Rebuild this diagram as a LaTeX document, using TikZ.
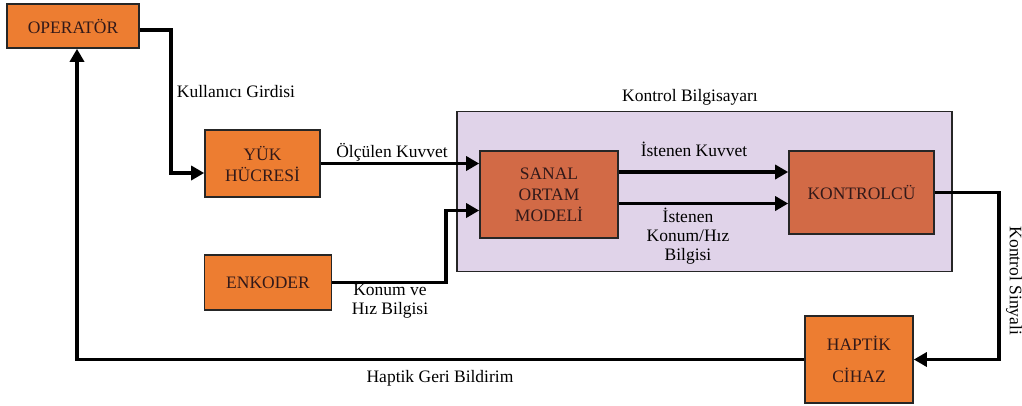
\documentclass[tikz,border=0pt]{standalone}
\usepackage{fontspec}
\setmainfont{Liberation Serif}
\usetikzlibrary{arrows.meta}
\definecolor{boxor}{RGB}{237,125,49}
\definecolor{boxdk}{RGB}{210,106,70}
\definecolor{panel}{RGB}{224,211,233}
\definecolor{btext}{RGB}{50,25,25}
\tikzset{
  box/.style={draw=black!85, line width=1.6pt, fill=boxor, align=center, text=btext, font=\fontsize{17.5}{21}\selectfont, inner sep=0pt},
  dbox/.style={box, fill=boxdk},
  arr/.style={line width=3.8pt, -{Triangle[length=13pt,width=14pt]}},
  lab/.style={font=\fontsize{17.5}{21}\selectfont, align=center, inner sep=0pt}
}
\begin{document}
\begin{tikzpicture}[x=1pt,y=-1pt]
\useasboundingbox (0,0) rectangle (1022,405);
\node[draw=black!85, line width=1.6pt, fill=panel, minimum width=495pt, minimum height=160pt, inner sep=0pt] (kb) at (704.5,191.5) {};
\node[box, minimum width=132pt, minimum height=44pt] (op) at (73,26) {OPERATÖR};
\node[box, minimum width=115pt, minimum height=67pt] (yuk) at (262.5,163.5) {YÜK\\HÜCRESİ};
\node[box, minimum width=127pt, minimum height=55pt] (enk) at (268,282.5) {ENKODER};
\node[dbox, minimum width=138pt, minimum height=87pt] (san) at (549,194.5) {SANAL\\ORTAM\\MODELİ};
\node[dbox, minimum width=145pt, minimum height=83pt] (kon) at (861.5,192.5) {KONTROLCÜ};
\node[box, minimum width=108pt, minimum height=87pt, font=\fontsize{17.5}{32}\selectfont] (hap) at (859,359.5) {HAPTİK\\CİHAZ};

\draw[arr] ([yshift=-4pt]op.east) -- (171,30) |- ([yshift=-9.5pt]yuk.west);
\draw[arr] (yuk.east) -- (yuk.east -| san.west);
\draw[arr] (enk.east) -- (446,282.5) |- ([yshift=-16pt]san.west);
\draw[arr] ([yshift=22.5pt]san.east) -- ([yshift=22.5pt]san.east -| kon.west);
\draw[arr] ([yshift=-9pt]san.east) -- ([yshift=-9pt]san.east -| kon.west);
\draw[arr] (kon.east) -- (999,192.5) |- (hap.east);
\draw[arr] (hap.west) -| ([xshift=4pt]op.south);

\node[lab] (l1) at (236,92) {Kullanıcı Girdisi};
\node[lab] (l2) at (690,97) {Kontrol Bilgisayarı};
\node[lab] (l3) at (392,152) {Ölçülen Kuvvet};
\node[lab] (l4) at (694,149) {İstenen Kuvvet};
\node[lab, font=\fontsize{17.5}{19}\selectfont] (l5) at (688,236) {İstenen\\Konum/Hız\\Bilgisi};
\node[lab, font=\fontsize{17.5}{19}\selectfont] (l6) at (390,301) {Konum ve\\Hız Bilgisi};
\node[lab] (l7) at (440,378) {Haptik Geri Bildirim};
\node[lab, rotate=-90] (l8) at (1014,281) {Kontrol Sinyali};
\end{tikzpicture}
\end{document}
